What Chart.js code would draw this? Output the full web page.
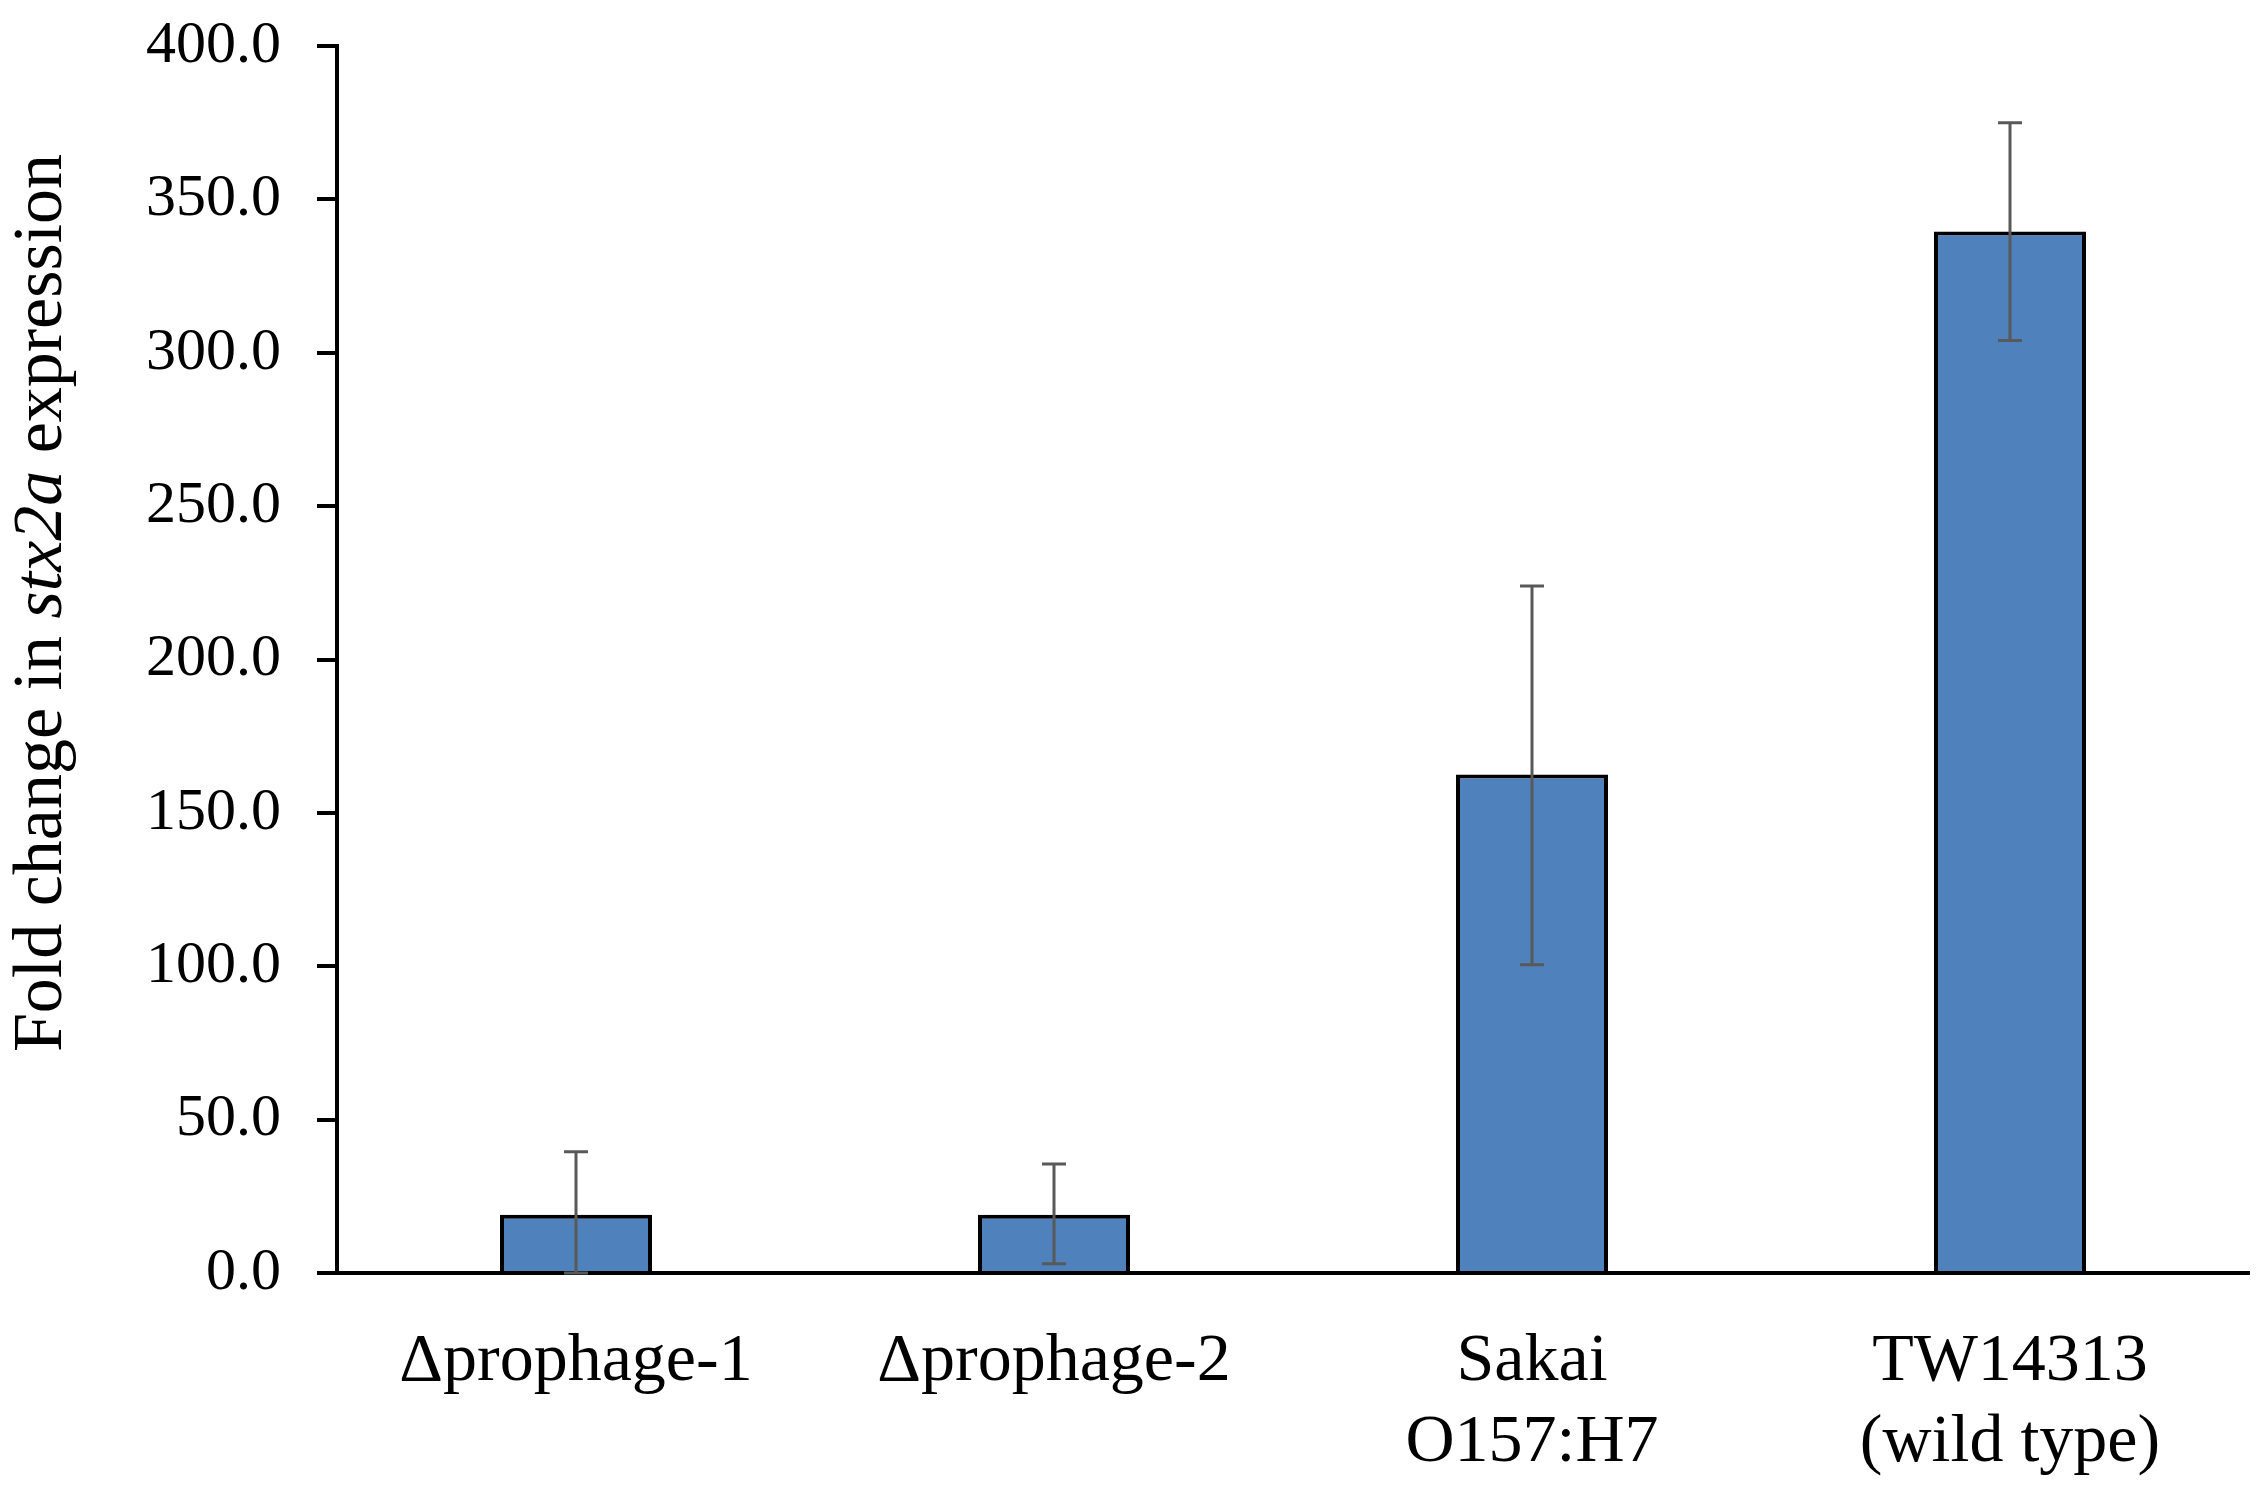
<!DOCTYPE html>
<html>
<head>
<meta charset="utf-8">
<script src="https://cdn.jsdelivr.net/npm/chart.js@4.4.0/dist/chart.umd.min.js"></script>
<style>
  html, body { margin: 0; padding: 0; background: #fff; }
  #wrap { width: 2268px; height: 1488px; }
</style>
</head>
<body>
<div id="wrap"><canvas id="stx_chart" width="2268" height="1488"></canvas></div>
<script>
    // Data
    const strains = [
        '\u0394prophage-1',
        '\u0394prophage-2',
        ['Sakai', 'O157:H7'],
        ['TW14313', '(wild type)']
    ];
    const foldChange = [19.0, 19.0, 162.5, 339.5];
    const errUp = [20.5, 16.5, 61.5, 35.5];
    const errDown = [19.0, 16.0, 62.0, 35.5];
    const yTicks = [0, 50, 100, 150, 200, 250, 300, 350, 400];

    const serif = "'Liberation Serif', 'Times New Roman', serif";

    // Error bars, drawn through the y scale
    const errorBars = {
        id: 'errorBars',
        afterDatasetsDraw(chart) {
            const ctx = chart.ctx;
            const y = chart.scales.y;
            const meta = chart.getDatasetMeta(0);
            ctx.save();
            ctx.strokeStyle = '#595959';
            ctx.lineWidth = 3;
            meta.data.forEach((bar, i) => {
                const v = foldChange[i];
                const top = y.getPixelForValue(v + errUp[i]);
                const bot = y.getPixelForValue(Math.max(0, v - errDown[i]));
                ctx.beginPath();
                ctx.moveTo(bar.x, top);
                ctx.lineTo(bar.x, bot);
                ctx.moveTo(bar.x - 12, top);
                ctx.lineTo(bar.x + 12, top);
                ctx.moveTo(bar.x - 12, bot);
                ctx.lineTo(bar.x + 12, bot);
                ctx.stroke();
            });
            ctx.restore();
        }
    };

    // Y axis title with the italic gene name
    const yTitle = {
        id: 'yTitle',
        afterDraw(chart) {
            const ctx = chart.ctx;
            const parts = [
                { t: 'Fold change in ', f: '70px ' + serif },
                { t: 'stx2a', f: 'italic 70px ' + serif },
                { t: ' expression', f: '70px ' + serif }
            ];
            ctx.save();
            let total = 0;
            parts.forEach(p => { ctx.font = p.f; total += ctx.measureText(p.t).width; });
            ctx.translate(43, 603);
            ctx.rotate(-Math.PI / 2);
            ctx.fillStyle = '#000';
            ctx.textBaseline = 'middle';
            let x = -total / 2;
            parts.forEach(p => {
                ctx.font = p.f;
                ctx.fillText(p.t, x, 0);
                x += ctx.measureText(p.t).width;
            });
            ctx.restore();
        }
    };

    const config = {
        type: 'bar',
        data: {
            labels: strains,
            datasets: [{
                label: 'Fold change',
                data: foldChange,
                backgroundColor: '#4F81BD',
                borderColor: '#000000',
                borderWidth: 4,
                categoryPercentage: 1.0,
                barPercentage: 0.318
            }]
        },
        options: {
            responsive: false,
            animation: false,
            layout: { padding: { top: 46, right: 19, left: 0, bottom: 0 } },
            plugins: {
                legend: { display: false },
                tooltip: { enabled: false }
            },
            scales: {
                x: {
                    grid: { display: false, drawTicks: false },
                    border: { display: true, color: '#000', width: 4 },
                    ticks: {
                        color: '#000',
                        padding: 48,
                        maxRotation: 0,
                        autoSkip: false,
                        font: { family: serif, size: 68 }
                    },
                    afterFit(scale) {
                        scale.height = 215;
                        scale.paddingRight = 0;
                        scale.paddingLeft = 0;
                    }
                },
                y: {
                    min: 0,
                    max: 400,
                    afterBuildTicks(scale) {
                        scale.ticks = yTicks.map(v => ({ value: v }));
                    },
                    grid: {
                        drawOnChartArea: false,
                        drawTicks: true,
                        tickLength: 20,
                        color: '#000',
                        lineWidth: 4
                    },
                    border: { display: true, color: '#000', width: 4 },
                    ticks: {
                        color: '#000',
                        padding: 36,
                        font: { family: serif, size: 60 },
                        callback: v => Number(v).toFixed(1)
                    },
                    afterFit(scale) {
                        scale.width = 337;
                        scale.paddingTop = 0;
                        scale.paddingBottom = 0;
                    }
                }
            }
        },
        plugins: [errorBars, yTitle]
    };

    const stx_chart = new Chart(document.getElementById('stx_chart'), config);
</script>
</body>
</html>
